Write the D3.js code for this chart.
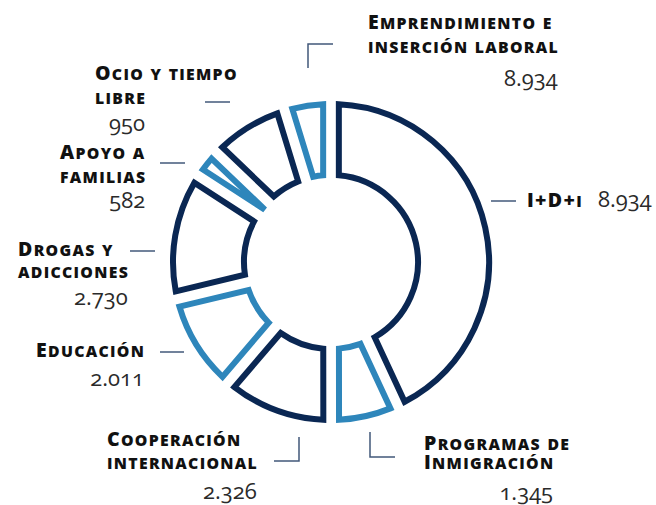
<!DOCTYPE html>
<html>
<head>
<meta charset="utf-8">
<script src="https://cdn.jsdelivr.net/npm/d3@7"></script>
<style>
  body { margin: 0; background: #fff; }
  .name { font-family: "Open Sans", Lato, sans-serif; font-weight: 800; fill: #111; letter-spacing: 1.3px; }
  .num { font-family: "Open Sans", Lato, sans-serif; font-weight: 400; font-size: 22px; fill: #2a2a2a; font-feature-settings: "onum"; }
</style>
</head>
<body>
<svg id="chart" width="656" height="505"></svg>
<script>
// categorias en orden horario desde arriba
const categories = ["I+D+i", "Programas de Inmigración", "Cooperación internacional", "Educación",
  "Drogas y adicciones", "Apoyo a familias", "Ocio y tiempo libre", "Emprendimiento e inserción laboral"];
// tamaño de cada porción (%)
const sliceShares = [47.5, 6.1, 11.1, 9.6, 13.0, 1.6, 7.5, 3.6];
// cifras tal como aparecen en las etiquetas
const valueLabels = ["8.934", "1.345", "2.326", "2.011", "2.730", "582", "950", "8.934"];
const strokeColors = ["#0a2753", "#2e86bb", "#0a2753", "#2e86bb", "#0a2753", "#2e86bb", "#0a2753", "#2e86bb"];

const svg = d3.select("#chart");
const cx = 331, cy = 262;
const outerR = 158, innerR = 87;
const gap = 15.7;

const pie = d3.pie().sort(null).value(d => d).padAngle(gap / outerR);
const arc = d3.arc().innerRadius(innerR).outerRadius(outerR).padRadius(outerR);

const g = svg.append("g").attr("transform", `translate(${cx},${cy})`);
g.selectAll("path")
  .data(pie(sliceShares))
  .join("path")
  .attr("d", arc)
  .attr("fill", "#fff")
  .attr("stroke", (d, i) => strokeColors[i])
  .attr("stroke-width", 6)
  .attr("stroke-linejoin", "miter");

// lineas guia (puntos de la polilinea)
const leaders = [
  [[491, 201], [516, 201]],
  [[370, 432], [370, 457], [395, 457]],
  [[299, 437], [299, 461], [274, 461]],
  [[184, 352], [160, 352]],
  [[155, 251], [130, 251]],
  [[185, 163], [160, 163]],
  [[230, 102], [205, 102]],
  [[308, 68], [308, 44], [333, 44]]
];
svg.selectAll("path.leader")
  .data(leaders)
  .join("path")
  .attr("class", "leader")
  .attr("d", d3.line())
  .attr("fill", "none")
  .attr("stroke", "#42587a")
  .attr("stroke-width", 1.5);

// posiciones de las etiquetas: x izquierda, líneas base del nombre y de la cifra
const labelPos = [
  { x: 527, lines: ["I+D+i"], ys: [207], numX: 598, numY: 207, inline: true },
  { x: 424, lines: ["Programas de", "Inmigración"], ys: [450, 469], numY: 500 },
  { x: 107, lines: ["Cooperación", "internacional"], ys: [446, 469], numY: 499 },
  { x: 36, lines: ["Educación"], ys: [357], numY: 386 },
  { x: 18, lines: ["Drogas y", "adicciones"], ys: [256, 278], numY: 305 },
  { x: 60, lines: ["Apoyo a", "familias"], ys: [159, 183], numY: 208 },
  { x: 95, lines: ["Ocio y tiempo", "libre"], ys: [80, 104], numY: 131 },
  { x: 368, lines: ["Emprendimiento e", "inserción laboral"], ys: [29, 53], numY: 86 }
];

// versalitas hechas a mano: mayúsculas grandes, minúsculas como mayúsculas pequeñas
const bigSize = 19.5, smallSize = 15.8;
function smallCaps(text, str) {
  const parts = [];
  for (const ch of str) {
    const small = ch !== ch.toUpperCase();
    const last = parts[parts.length - 1];
    if (last && last.small === small) last.s += ch;
    else parts.push({ small, s: ch });
  }
  text.selectAll("tspan")
    .data(parts)
    .join("tspan")
    .attr("font-size", d => d.small ? smallSize : bigSize)
    .text(d => d.s.toUpperCase());
}

labelPos.forEach((p, i) => {
  let lastW = 0;
  p.lines.forEach((ln, k) => {
    const t = svg.append("text")
      .attr("class", "name")
      .attr("x", p.x)
      .attr("y", p.ys[k]);
    smallCaps(t, ln);
    lastW = t.node().getComputedTextLength() - 1.3;
  });
  const num = svg.append("text").attr("class", "num").text(valueLabels[i]);
  if (p.inline) {
    num.attr("x", p.numX).attr("y", p.numY);
  } else {
    num.attr("x", p.x + lastW).attr("y", p.numY).attr("text-anchor", "end");
  }
});
</script>
</body>
</html>
